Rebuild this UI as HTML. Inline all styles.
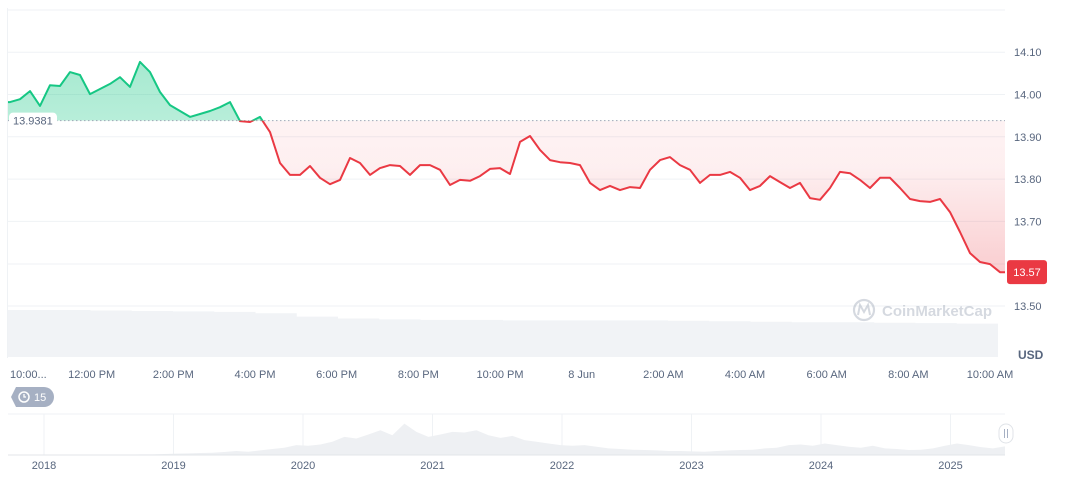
<!DOCTYPE html>
<html><head><meta charset="utf-8">
<style>
body{margin:0;background:#fff;font-family:"Liberation Sans",sans-serif;}
svg text{font-family:"Liberation Sans",sans-serif;}
</style></head>
<body>
<svg width="1072" height="477" viewBox="0 0 1072 477" id="chart">
<defs>
<linearGradient id="gG" x1="0" y1="0" x2="0" y2="1"><stop offset="0" stop-color="#16c784" stop-opacity="0.38"/><stop offset="1" stop-color="#16c784" stop-opacity="0.12"/></linearGradient>
<linearGradient id="gR" x1="0" y1="0" x2="0" y2="1"><stop offset="0" stop-color="#ea3943" stop-opacity="0.04"/><stop offset="0.5" stop-color="#ea3943" stop-opacity="0.08"/><stop offset="1" stop-color="#ea3943" stop-opacity="0.25"/></linearGradient>
<clipPath id="above"><rect id="clipA" x="0" y="0" width="1072" height="0"/></clipPath>
<clipPath id="below"><rect id="clipB" x="0" y="0" width="1072" height="477"/></clipPath>
</defs>
<g id="grid"></g>
<line x1="7.5" y1="8" x2="7.5" y2="358" stroke="#eff2f5"/>
<g id="vol"></g>
<g id="series"></g>
<g id="yaxis"></g>
<g id="xaxis"></g>
<text x="1018" y="359" font-size="12" font-weight="bold" fill="#58667e">USD</text>
<g opacity="0.35">
<circle cx="864" cy="310" r="10" fill="none" stroke="#8a95a8" stroke-width="2.2"/>
<path d="M858 315 L860 305 L864 312 L868 305 L870 315" fill="none" stroke="#8a95a8" stroke-width="2"/>
<text x="882" y="316" font-size="15" font-weight="bold" fill="#8a95a8">CoinMarketCap</text>
</g>
<g>
<path d="M16 387 H44 A10 10 0 0 1 44 407 H16 L11 397 Z" fill="#a6b0c3"/>
<circle cx="24" cy="397" r="5" fill="none" stroke="#fff" stroke-width="1.5"/>
<path d="M24 394 V397 H26" stroke="#fff" stroke-width="1.3" fill="none"/>
<text x="34" y="401" font-size="11" fill="#fff">15</text>
</g>
<g id="nav"></g>
</svg>
<script>
const prices=[13.982,13.989,14.008,13.973,14.022,14.020,14.053,14.046,14.001,14.013,14.025,14.041,14.018,14.077,14.053,14.006,13.975,13.961,13.947,13.954,13.961,13.970,13.982,13.937,13.935,13.947,13.911,13.838,13.810,13.810,13.831,13.803,13.788,13.798,13.850,13.838,13.810,13.826,13.833,13.831,13.810,13.833,13.833,13.822,13.786,13.798,13.796,13.807,13.824,13.826,13.812,13.888,13.902,13.869,13.845,13.840,13.838,13.833,13.791,13.774,13.784,13.774,13.781,13.779,13.822,13.845,13.852,13.833,13.822,13.791,13.810,13.810,13.817,13.803,13.774,13.784,13.807,13.793,13.779,13.791,13.755,13.751,13.779,13.817,13.814,13.798,13.779,13.803,13.803,13.779,13.753,13.748,13.746,13.753,13.722,13.675,13.625,13.604,13.599,13.580];
const baseline=13.9381;
const lastPrice="13.57";
const yTicks=[14.10,14.00,13.90,13.80,13.70,13.50];
const xTickLabels=["10:00...","12:00 PM","2:00 PM","4:00 PM","6:00 PM","8:00 PM","10:00 PM","8 Jun","2:00 AM","4:00 AM","6:00 AM","8:00 AM","10:00 AM"];
const xTickHours=[0.05,2,4,6,8,10,12,14,16,18,20,22,24];
const volumes=[100,100,99,98,97,96,93,86,82,80,79,79,78,78,78,78,77,76,75,74,74,73,72,71];
const yearLabels=["2018","2019","2020","2021","2022","2023","2024","2025"];
const navValues=[0,0,0,0,0,0,0,0,0,1,1,2,2,3,4,5,6,7,9,12,10,14,18,22,30,28,32,40,55,50,62,75,60,95,70,55,62,70,68,75,60,52,58,45,40,35,30,28,30,25,20,18,16,15,14,12,12,11,10,12,14,15,16,20,22,30,32,28,35,30,25,22,28,20,18,15,16,20,28,35,30,24,20,26];
const NS="http://www.w3.org/2000/svg";
function mk(tag,attrs,parent){const e=document.createElementNS(NS,tag);for(const k in attrs)e.setAttribute(k,attrs[k]);parent.appendChild(e);return e;}
const yS=v=>306-(v-13.5)*423;
const xS=i=>10+i*(990/(prices.length-1));
const xH=h=>10+h*((990-10)/24);
const grid=document.getElementById('grid');
[10].concat(yTicks.map(yS),[264]).forEach(y=>{const l=mk('line',{x1:8,x2:1005,y1:y,y2:y,stroke:'#eff2f5'},grid);});
const ya=document.getElementById('yaxis');
yTicks.forEach(v=>{const t=mk('text',{x:1014,y:yS(v)+4,'font-size':11,fill:'#58667e'},ya);t.textContent=v.toFixed(2);});
const xa=document.getElementById('xaxis');
xTickLabels.forEach((s,i)=>{const t=mk('text',{x:xH(xTickHours[i]),y:378,'font-size':11,fill:'#58667e','text-anchor':i==0?'start':'middle'},xa);if(i==0)t.setAttribute('x',10);t.textContent=s;});
const vol=document.getElementById('vol');
const vw=(998-8)/volumes.length;
let vp='M8 357 ';
volumes.forEach((v,i)=>{const y=357-v*0.47;vp+=`L${8+i*vw} ${y} L${8+(i+1)*vw} ${y} `;});
vp+='L998 357 Z';
const va=mk('path',{d:vp,fill:'#f1f3f6'},vol);
const by=yS(baseline);
document.getElementById('clipA').setAttribute('height',by);
document.getElementById('clipB').setAttribute('y',by);
const ser=document.getElementById('series');
let line='';prices.forEach((v,i)=>{line+=(i?'L':'M')+xS(i).toFixed(1)+' '+yS(v).toFixed(1)+' ';});
line='M8 '+yS(prices[0]).toFixed(1)+' L'+line.slice(1)+' L1005 '+yS(prices[prices.length-1]).toFixed(1);
const area=line+` L1005 ${by} L8 ${by} Z`;
const a1=mk('path',{d:area,fill:'url(#gG)','clip-path':'url(#above)'},ser);
const a2=mk('path',{d:area,fill:'url(#gR)','clip-path':'url(#below)'},ser);
const bl=mk('line',{x1:8,x2:1005,y1:by,y2:by,stroke:'#a0a8b8','stroke-dasharray':'1.5 2.5'},ser);
const l1=mk('path',{d:line,fill:'none',stroke:'#16c784','stroke-width':2,'clip-path':'url(#above)','stroke-linejoin':'round'},ser);
const l2=mk('path',{d:line,fill:'none',stroke:'#ea3943','stroke-width':2,'clip-path':'url(#below)','stroke-linejoin':'round'},ser);
const bb=mk('rect',{x:9,y:by-8,width:48,height:16,rx:4,fill:'#fff'},ser);
const bt=mk('text',{x:13,y:by+4,'font-size':11,fill:'#58667e'},ser);bt.textContent=baseline.toFixed(4);
const ly=yS(prices[prices.length-1]);
const pb=mk('rect',{x:1007,y:ly-12,width:40,height:24,rx:3,fill:'#ea3943'},ser);
const pt=mk('text',{x:1027,y:ly+4,'font-size':11,fill:'#fff','text-anchor':'middle'},ser);pt.textContent=lastPrice;
const nav=document.getElementById('nav');
const nt=mk('line',{x1:8,x2:1005,y1:414,y2:414,stroke:'#eff2f5'},nav);
yearLabels.forEach((s,i)=>{const x=44+i*129.5;const g=mk('line',{x1:x,x2:x,y1:414,y2:455,stroke:'#eff2f5'},nav);
const t=mk('text',{x:x,y:469,'font-size':11,fill:'#58667e','text-anchor':'middle'},nav);t.textContent=s;});
let np='M8 455 ';const nw=(1005-8)/(navValues.length-1);
navValues.forEach((v,i)=>{np+=`L${8+i*nw} ${455-v*0.33} `;});np+='L1005 455 Z';
const na=mk('path',{d:np,fill:'#eef0f3'},nav);
const nb=mk('line',{x1:8,x2:1005,y1:455,y2:455,stroke:'#e3e6ea'},nav);
const h=mk('rect',{x:999,y:424,width:14,height:19,rx:7,fill:'#fff',stroke:'#e0e3e8'},nav);
mk('line',{x1:1004.5,x2:1004.5,y1:429,y2:438,stroke:'#a6b0c3'},nav);mk('line',{x1:1007.5,x2:1007.5,y1:429,y2:438,stroke:'#a6b0c3'},nav);
</script>
</body></html>
